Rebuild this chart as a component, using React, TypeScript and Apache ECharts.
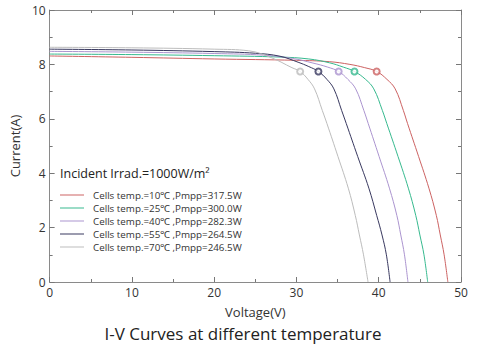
import React, { useEffect, useRef } from "react";
import * as echarts from "echarts";

const seriesNames = [
  "Cells temp.=10℃ ,Pmpp=317.5W",
  "Cells temp.=25℃ ,Pmpp=300.0W",
  "Cells temp.=40℃ ,Pmpp=282.3W",
  "Cells temp.=55℃ ,Pmpp=264.5W",
  "Cells temp.=70℃ ,Pmpp=246.5W",
];
const colors = ["#cc6262", "#36b98e", "#ab94cf", "#38385f", "#bcbcbc"];

// [Voltage (V), Current (A)]
const curve10: number[][] = [
  [0, 8.31], [10, 8.26], [20, 8.2], [30, 8.15], [34, 8.1], [36.5, 8.0], [38.3, 7.88],
  [39.75, 7.74], [41.0, 7.45], [42.0, 7.1], [43.0, 6.3], [43.5, 5.83], [44.85, 4.61],
  [46.1, 3.45], [47.0, 2.45], [47.48, 1.73], [47.95, 1.0], [48.4, 0],
];
const curve25: number[][] = [
  [0, 8.38], [10, 8.36], [20, 8.32], [28, 8.27], [31.5, 8.2], [34, 8.06], [35.7, 7.9],
  [37.05, 7.74], [38.4, 7.45], [39.4, 7.1], [40.45, 6.3], [40.98, 5.83], [42.35, 4.61],
  [43.6, 3.45], [44.5, 2.45], [45.0, 1.73], [45.5, 1.0], [45.95, 0],
];
const curve40: number[][] = [
  [0, 8.48], [10, 8.45], [20, 8.4], [26, 8.34], [29.5, 8.22], [32, 8.05], [33.8, 7.9],
  [35.13, 7.74], [36.25, 7.45], [37.2, 7.1], [38.2, 6.3], [38.72, 5.83], [40.05, 4.61],
  [41.3, 3.45], [42.2, 2.45], [42.68, 1.73], [43.13, 1.0], [43.55, 0],
];
const curve55: number[][] = [
  [0, 8.56], [10, 8.53], [20, 8.47], [25, 8.41], [28, 8.3], [30.2, 8.08], [31.5, 7.92],
  [32.67, 7.74], [33.7, 7.45], [34.55, 7.1], [35.5, 6.3], [36.05, 5.83], [37.45, 4.61],
  [38.8, 3.45], [39.75, 2.45], [40.4, 1.73], [40.93, 1.0], [41.38, 0],
];
const curve70: number[][] = [
  [0, 8.63], [10, 8.61], [20, 8.56], [24.2, 8.5], [27, 8.24], [29.45, 7.88],
  [30.45, 7.74], [31.4, 7.45], [32.2, 7.1], [33.15, 6.3], [33.7, 5.83], [35.05, 4.61],
  [36.3, 3.45], [37.15, 2.45], [37.65, 1.73], [38.15, 1.0], [38.7, 0],
];
const curves = [curve10, curve25, curve40, curve55, curve70];

// Maximum power points [V, I]
const mppPoints: number[][] = [
  [39.75, 7.74], [37.05, 7.74], [35.13, 7.74], [32.67, 7.74], [30.45, 7.74],
];

const xTicks = { min: 0, max: 50, interval: 10 };
const yTicks = { min: 0, max: 10, interval: 2 };

const FONT = "'Open Sans', 'Noto Sans', sans-serif";

export default function App() {
  const ref = useRef<HTMLDivElement>(null);
  useEffect(() => {
    if (!ref.current) return;
    const chart = echarts.init(ref.current, undefined, { renderer: "svg" });
    const axisLine = { show: true, onZero: false, lineStyle: { color: "#8a8a8a", width: 1 } };
    const tick = { show: true, inside: true, length: 5, lineStyle: { color: "#777", width: 1 } };
    const minor = { show: true, splitNumber: 2, length: 3, lineStyle: { color: "#777", width: 1 } };
    const lineSeries = curves.map((c, i) => ({
      name: seriesNames[i],
      type: "line",
      data: c,
      smooth: 0.4,
      symbol: "none",
      lineStyle: { color: colors[i], width: 1 },
      itemStyle: { color: colors[i] },
      z: 2,
    }));
    const mppSeries = mppPoints.map((p, i) => ({
      type: "scatter",
      data: [p],
      symbol: "emptyCircle",
      symbolSize: 6,
      itemStyle: { color: colors[i], borderColor: colors[i], borderWidth: 1 },
      z: 3,
    }));
    chart.setOption({
      animation: false,
      textStyle: { fontFamily: FONT },
      grid: { left: 45, right: 39, top: 10, bottom: 74, containLabel: false },
      title: {
        text: "I-V Curves at different temperature",
        left: 238,
        textAlign: "center",
        top: 320,
        textStyle: { fontFamily: FONT, fontSize: 17, fontWeight: "normal", color: "#222" },
      },
      legend: {
        data: seriesNames,
        orient: "vertical",
        left: 60,
        top: 188.5,
        padding: 0,
        itemGap: 0,
        itemWidth: 24,
        itemHeight: 1,
        icon: "rect",
        textStyle: { fontFamily: FONT, fontSize: 9.8, lineHeight: 13, color: "#333", padding: [0, 0, 0, 4] },
      },
      graphic: [
        {
          type: "text",
          left: 60,
          top: 167,
          style: {
            text: "Incident Irrad.=1000W/m²",
            font: `12.5px ${FONT}`,
            fill: "#222",
          },
        },
      ],
      xAxis: [
        {
          type: "value",
          ...xTicks,
          name: "Voltage(V)",
          nameLocation: "middle",
          nameGap: 23,
          nameTextStyle: { fontFamily: FONT, fontSize: 13, color: "#333" },
          axisLine,
          axisTick: tick,
          minorTick: minor,
          splitLine: { show: false },
          axisLabel: { fontFamily: FONT, fontSize: 12, color: "#333", margin: 4 },
        },
        {
          type: "value",
          position: "top",
          ...xTicks,
          axisLine,
          axisTick: tick,
          minorTick: minor,
          splitLine: { show: false },
          axisLabel: { show: false },
        },
      ],
      yAxis: [
        {
          type: "value",
          ...yTicks,
          name: "Current(A)",
          nameLocation: "middle",
          nameGap: 12,
          nameTextStyle: { fontFamily: FONT, fontSize: 13, color: "#333" },
          axisLine,
          axisTick: tick,
          minorTick: minor,
          splitLine: { show: false },
          axisLabel: { fontFamily: FONT, fontSize: 12, color: "#333", margin: 4 },
        },
        {
          type: "value",
          position: "right",
          ...yTicks,
          axisLine,
          axisTick: tick,
          minorTick: minor,
          splitLine: { show: false },
          axisLabel: { show: false },
        },
      ],
      series: [...lineSeries, ...mppSeries],
    });
    return () => chart.dispose();
  }, []);
  return <div ref={ref} style={{ width: 500, height: 356, position: "absolute", left: 0, top: 0 }} />;
}
